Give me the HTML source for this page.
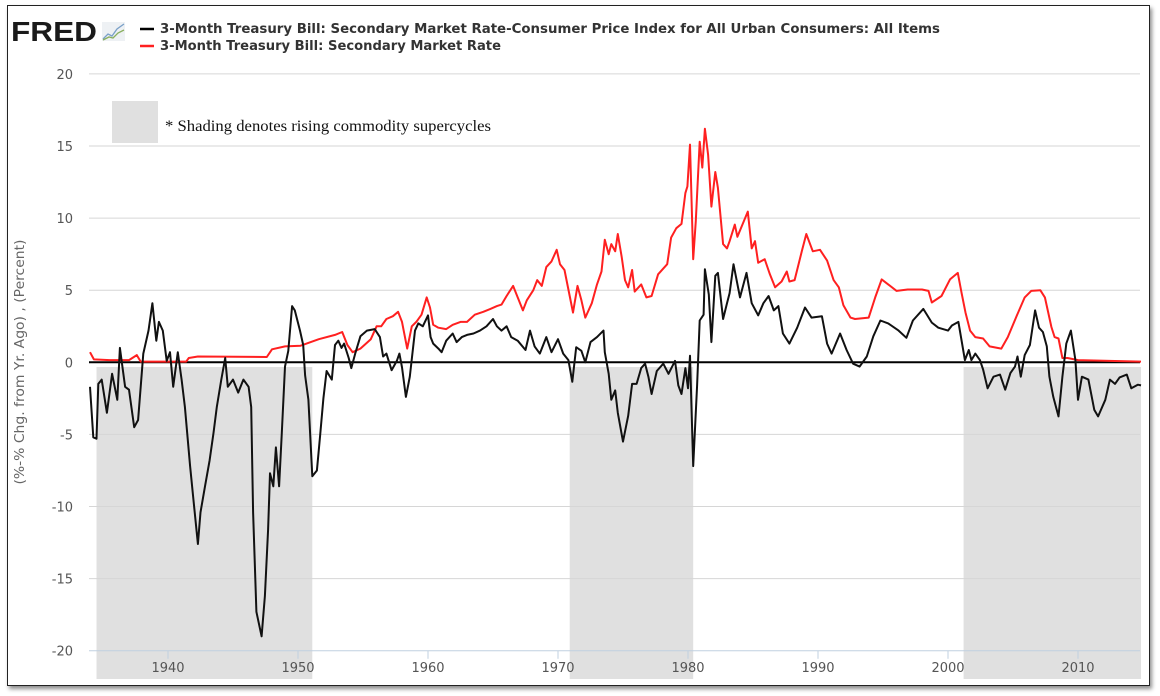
<!DOCTYPE html>
<html><head><meta charset="utf-8"><style>
body{margin:0;background:#fff;width:1160px;height:696px;overflow:hidden;font-family:"DejaVu Sans","Liberation Sans",sans-serif}
#frame{position:absolute;left:7px;top:5px;width:1141px;height:679px;border:1px solid #222;box-shadow:2px 3px 4px rgba(0,0,0,0.45);background:#fff}
</style></head><body>
<div id="frame"></div>
<svg id="chart" width="1160" height="696" style="position:absolute;left:0;top:0;font-family:'DejaVu Sans','Liberation Sans',sans-serif">
<g>
<text x="11" y="41" font-family="Liberation Sans" font-weight="bold" font-size="28" fill="#1a1a1a" textLength="86" lengthAdjust="spacingAndGlyphs">FRED</text>
<rect x="102" y="22" width="23" height="19" fill="#eef1f4"/>
<polyline points="103,39 108,34 112,36 117,29 124,24" fill="none" stroke="#7aa0c8" stroke-width="1.3"/>
<polyline points="103,40 109,37 113,38 118,33 124,30" fill="none" stroke="#8ab060" stroke-width="1.3"/>
</g>
<g>
<line x1="140" y1="29" x2="154" y2="29" stroke="#000" stroke-width="2.5"/>
<text x="160" y="33" font-size="13" font-weight="bold" fill="#333" textLength="780" lengthAdjust="spacingAndGlyphs">3-Month Treasury Bill: Secondary Market Rate-Consumer Price Index for All Urban Consumers: All Items</text>
<line x1="140" y1="46" x2="154" y2="46" stroke="#ff2020" stroke-width="2.5"/>
<text x="160" y="50" font-size="13" font-weight="bold" fill="#333" textLength="341" lengthAdjust="spacingAndGlyphs">3-Month Treasury Bill: Secondary Market Rate</text>
</g>
<text transform="translate(24,362) rotate(-90)" text-anchor="middle" font-size="13" fill="#666" textLength="245" lengthAdjust="spacingAndGlyphs">(%-% Chg. from Yr. Ago) , (Percent)</text>
<g id="shades"></g>
<g id="grid"></g>
<g id="xaxis"></g>
<g id="series"></g>
<rect x="112" y="101" width="46" height="42" fill="#e0e0e0"/>
<text x="165" y="131" font-family="Liberation Serif" font-size="16" fill="#111" textLength="326" lengthAdjust="spacingAndGlyphs">* Shading denotes rising commodity supercycles</text>
</svg>
<script>
const yTicks=[20,15,10,5,0,-5,-10,-15,-20];
const xTicks=[1940,1950,1960,1970,1980,1990,2000,2010];
const shadeStarts=[1934.5,1970.9,2001.2];
const shadeEnds=[1951.1,1980.4,2014.85];
const blackYears=[1934.0,1934.25,1934.5,1934.64,1934.9,1935.3,1935.7,1936.1,1936.3,1936.7,1937.0,1937.4,1937.7,1938.1,1938.5,1938.8,1939.1,1939.3,1939.6,1939.9,1940.15,1940.4,1940.75,1941.05,1941.3,1941.7,1941.95,1942.3,1942.5,1942.85,1943.2,1943.5,1943.75,1944.1,1944.4,1944.6,1945.0,1945.4,1945.8,1946.2,1946.4,1946.55,1946.8,1947.2,1947.45,1947.7,1947.85,1948.1,1948.3,1948.55,1948.75,1949.0,1949.25,1949.55,1949.75,1950.15,1950.4,1950.55,1950.8,1951.1,1951.45,1951.7,1951.95,1952.2,1952.6,1952.85,1953.1,1953.35,1953.55,1953.9,1954.1,1954.4,1954.8,1955.3,1955.9,1956.3,1956.55,1956.8,1957.2,1957.6,1957.8,1958.0,1958.3,1958.6,1958.8,1959.0,1959.25,1959.6,1960.0,1960.2,1960.4,1960.8,1961.05,1961.4,1961.9,1962.2,1962.6,1963.0,1963.5,1964.0,1964.5,1965.0,1965.3,1965.65,1966.05,1966.4,1966.9,1967.5,1967.85,1968.2,1968.6,1969.1,1969.5,1970.0,1970.4,1970.8,1971.1,1971.4,1971.8,1972.1,1972.5,1973.0,1973.5,1973.6,1973.9,1974.1,1974.4,1974.6,1975.0,1975.4,1975.7,1976.05,1976.4,1976.7,1976.95,1977.2,1977.6,1978.1,1978.5,1979.0,1979.25,1979.5,1979.8,1980.0,1980.15,1980.4,1980.7,1980.9,1981.2,1981.3,1981.6,1981.8,1982.1,1982.3,1982.7,1983.0,1983.2,1983.5,1984.0,1984.5,1984.9,1985.4,1985.8,1986.2,1986.6,1986.95,1987.3,1987.8,1988.4,1989.0,1989.5,1990.3,1990.7,1991.05,1991.7,1992.2,1992.7,1993.2,1993.75,1994.25,1994.8,1995.4,1996.2,1996.8,1997.3,1998.1,1998.75,1999.25,2000.0,2000.3,2000.8,2001.05,2001.3,2001.6,2001.8,2002.1,2002.45,2002.7,2003.05,2003.5,2004.0,2004.4,2004.8,2005.15,2005.35,2005.6,2005.9,2006.3,2006.7,2007.0,2007.3,2007.6,2007.8,2008.1,2008.5,2008.8,2009.1,2009.45,2009.8,2010.0,2010.3,2010.8,2011.25,2011.55,2012.1,2012.45,2012.85,2013.2,2013.75,2014.1,2014.6,2014.85];
const blackValues=[-1.7,-5.2,-5.3,-1.5,-1.2,-3.5,-0.8,-2.6,1.0,-1.7,-1.9,-4.5,-4.0,0.6,2.2,4.1,1.5,2.8,2.2,0.1,0.7,-1.7,0.7,-1.2,-3.1,-7.2,-9.5,-12.6,-10.4,-8.6,-6.8,-4.9,-3.1,-1.2,0.3,-1.7,-1.2,-2.1,-1.2,-1.7,-3.1,-10.4,-17.3,-19.0,-16.2,-11.6,-7.7,-8.6,-5.9,-8.6,-4.9,-0.3,0.8,3.9,3.6,2.2,1.2,-0.9,-2.6,-7.9,-7.5,-5.1,-2.5,-0.6,-1.2,1.2,1.5,1.0,1.3,0.3,-0.4,0.6,1.8,2.2,2.3,1.75,0.4,0.6,-0.55,0.1,0.6,-0.35,-2.4,-1.0,0.6,2.2,2.7,2.5,3.25,1.75,1.3,0.95,0.7,1.5,2.0,1.4,1.75,1.9,2.0,2.2,2.5,3.0,2.5,2.2,2.5,1.75,1.5,0.85,2.2,1.1,0.6,1.75,0.7,1.6,0.6,0.15,-1.35,1.05,0.8,0.0,1.4,1.75,2.2,0.7,-0.8,-2.6,-1.95,-3.5,-5.5,-3.7,-1.5,-1.5,-0.4,-0.1,-1.0,-2.2,-0.6,-0.1,-0.8,0.1,-1.6,-2.2,-0.4,-1.8,0.45,-7.2,-1.6,2.9,3.3,6.45,4.7,1.4,6.0,6.2,3.0,4.1,4.8,6.8,4.5,6.2,4.1,3.25,4.1,4.6,3.6,3.9,2.0,1.3,2.4,3.8,3.1,3.2,1.3,0.6,2.0,0.85,-0.1,-0.3,0.4,1.8,2.9,2.7,2.2,1.7,2.9,3.7,2.75,2.4,2.2,2.55,2.8,1.5,0.15,0.85,0.15,0.6,0.15,-0.5,-1.8,-1.0,-0.85,-1.9,-0.75,-0.3,0.4,-1.0,0.5,1.2,3.6,2.4,2.1,1.1,-1.0,-2.4,-3.75,-1.0,1.3,2.2,0.15,-2.6,-1.0,-1.2,-3.3,-3.75,-2.6,-1.2,-1.5,-1.05,-0.85,-1.8,-1.55,-1.6];
const redYears=[1934.0,1934.3,1935.5,1937.0,1937.6,1937.9,1938.5,1941.4,1941.6,1942.3,1947.6,1948.0,1949.0,1950.2,1951.6,1952.85,1953.4,1953.8,1954.2,1954.8,1955.6,1956.05,1956.4,1956.8,1957.3,1957.7,1958.0,1958.4,1958.75,1959.1,1959.5,1959.9,1960.15,1960.4,1960.8,1961.4,1961.9,1962.5,1963.0,1963.6,1964.25,1964.8,1965.3,1965.65,1966.05,1966.55,1966.9,1967.3,1967.6,1968.1,1968.4,1968.75,1969.1,1969.5,1969.9,1970.15,1970.5,1970.9,1971.15,1971.5,1971.8,1972.1,1972.6,1973.0,1973.35,1973.6,1973.9,1974.1,1974.4,1974.6,1974.9,1975.15,1975.4,1975.7,1975.9,1976.4,1976.8,1977.2,1977.7,1978.4,1978.7,1979.1,1979.5,1979.8,1979.95,1980.15,1980.4,1980.6,1980.9,1981.1,1981.3,1981.55,1981.8,1982.1,1982.3,1982.7,1983.0,1983.2,1983.6,1983.8,1984.6,1984.9,1985.15,1985.4,1985.9,1986.3,1986.7,1987.2,1987.6,1987.8,1988.2,1988.75,1989.1,1989.6,1990.15,1990.7,1991.2,1991.6,1991.95,1992.5,1992.85,1993.9,1994.4,1994.9,1995.4,1996.05,1996.9,1998.0,1998.5,1998.75,1999.5,2000.15,2000.75,2001.05,2001.35,2001.7,2002.1,2002.7,2003.2,2004.1,2004.6,2005.3,2005.9,2006.4,2007.1,2007.45,2007.95,2008.2,2008.5,2008.8,2009.2,2010.0,2014.85];
const redValues=[0.7,0.2,0.15,0.15,0.5,0.05,0.05,0.05,0.3,0.4,0.37,0.9,1.1,1.15,1.6,1.9,2.1,1.2,0.7,0.95,1.6,2.5,2.5,3.0,3.2,3.5,2.8,0.95,2.5,2.8,3.3,4.5,3.8,2.6,2.4,2.3,2.6,2.8,2.8,3.3,3.5,3.7,3.9,4.0,4.6,5.3,4.5,3.6,4.3,5.0,5.7,5.3,6.6,7.0,7.8,6.8,6.4,4.6,3.45,5.3,4.3,3.1,4.1,5.4,6.3,8.5,7.5,8.2,7.7,8.9,7.3,5.7,5.2,6.4,4.9,5.4,4.5,4.6,6.1,6.8,8.65,9.3,9.6,11.75,12.2,15.1,7.15,9.8,15.3,13.5,16.2,14.4,10.8,13.2,12.1,8.2,7.9,8.4,9.55,8.7,10.45,7.9,8.4,6.9,7.15,6.1,5.2,5.6,6.3,5.6,5.7,7.7,8.9,7.7,7.8,7.05,5.7,5.2,3.95,3.1,3.0,3.1,4.5,5.75,5.4,4.95,5.05,5.05,4.95,4.15,4.6,5.75,6.2,4.8,3.45,2.2,1.75,1.65,1.1,0.95,1.75,3.25,4.5,4.95,5.0,4.5,2.45,1.75,1.65,0.3,0.3,0.15,0.05];

const NS='http://www.w3.org/2000/svg';
const X0=89,X1=1140;
function xs(yr){return 168+(yr-1940)*13;}
function ys(v){return 362.3-v*14.42;}
function mk(tag,attrs,parent){const e=document.createElementNS(NS,tag);for(const k in attrs)e.setAttribute(k,attrs[k]);parent.appendChild(e);return e;}
const shades=document.getElementById('shades');
shadeStarts.forEach((s,i)=>{
  const r=mk('rect',{x:xs(s),y:367,width:xs(shadeEnds[i])-xs(s),height:312,fill:'#e0e0e0'},shades);
  
  
});
const grid=document.getElementById('grid');
yTicks.forEach(v=>{
  if(v!==0&&v!==-20){
    const l=mk('line',{x1:X0,x2:X1,y1:ys(v),y2:ys(v),stroke:'#d6d6d6','stroke-width':1},grid);
    
    
  }
  const t=mk('text',{x:73,y:ys(v)+5,'text-anchor':'end','font-size':13,fill:'#555'},grid);
  t.textContent=v;
  
  
});
const xa=document.getElementById('xaxis');
const ax=mk('line',{x1:X0,x2:X1,y1:ys(-20),y2:ys(-20),stroke:'#c0d0e0','stroke-width':1},xa);


xTicks.forEach(yr=>{
  const l=mk('line',{x1:xs(yr),x2:xs(yr),y1:ys(-20),y2:ys(-20)+8,stroke:'#c0d0e0'},xa);
  
  
  const t=mk('text',{x:xs(yr),y:672,'text-anchor':'middle','font-size':13,fill:'#555'},xa);
  t.textContent=yr;
  
  
});
const ser=document.getElementById('series');
const zl=mk('line',{x1:X0,x2:X1,y1:ys(0),y2:ys(0),stroke:'#000','stroke-width':2},ser);


function path(xsA,vs){return xsA.map((yr,i)=>(i?'L':'M')+xs(yr).toFixed(1)+','+ys(vs[i]).toFixed(1)).join('');}
const rp=mk('path',{d:path(redYears,redValues),fill:'none',stroke:'#ff2020','stroke-width':2,'stroke-linejoin':'round'},ser);


const bp=mk('path',{d:path(blackYears,blackValues),fill:'none',stroke:'#111','stroke-width':2,'stroke-linejoin':'round'},ser);


</script>
</body></html>
